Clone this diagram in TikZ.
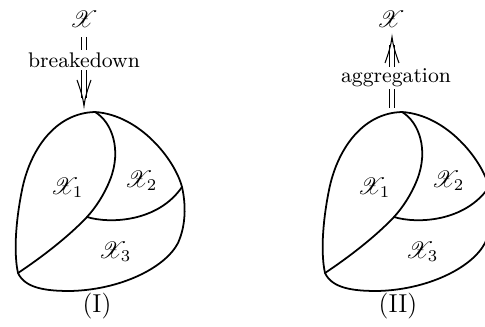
\documentclass[tikz,border=0pt]{standalone}
\usepackage{mathrsfs}
\usetikzlibrary{calc}
\begin{document}
\begin{tikzpicture}[x=0.4255pt,y=-0.4255pt,
  region/.style={line width=0.75pt, line join=round, line cap=round},
  arr/.style={line width=0.45pt},
  dbl/.style={line width=0.45pt, double, double distance=1.45pt},
  lab/.style={fill=white, inner sep=1pt, font=\small},
  captext/.style={font=\fontsize{11}{13}\selectfont},
  blob/.pic={
    \coordinate (-T) at (95,112);
    \coordinate (-B) at (18,273);
    \coordinate (-J) at (87,217);
    \coordinate (-R) at (182,187);
    \draw[region] (-T) .. controls (55,113) and (30,150) .. (22,190)
      .. controls (15,225) and (14,255) .. (-B)
      .. controls (25,288) and (45,291) .. (70,291)
      .. controls (120,290) and (165,268) .. (178,243)
      .. controls (186,225) and (186,205) .. (-R)
      .. controls (175,160) and (140,115) .. (-T);
    \draw[region] (-T) .. controls (112,122) and (122,150) .. (110,180)
      .. controls (104,195) and (96,207) .. (-J)
      .. controls (70,235) and (45,255) .. (-B);
    \draw[region] (-J) .. controls (110,224) and (158,222) .. (-R);
    \node (-x1) at (67,188) {$\mathscr{X}_1$};
    \node (-x2) at (141,181) {$\mathscr{X}_2$};
    \node (-x3) at (115,252) {$\mathscr{X}_3$};
  }]
\useasboundingbox (0,0) rectangle (485,327);
\clip (0,0) rectangle (485,327);

% left
\pic (L) at (0,0) {blob};
\node (X1) at (84,19) {$\mathscr{X}$};
\coordinate (a1) at (84,37);
\coordinate (t1) at (84,106);
\draw[dbl, shorten >=3.6pt] (a1) -- (t1);
\draw[arr] ($(t1)+(-7,-26)$) .. controls ($(t1)+(-3,-15)$) and ($(t1)+(-1,-8)$) .. (t1)
  .. controls ($(t1)+(1,-8)$) and ($(t1)+(3,-15)$) .. ($(t1)+(7,-26)$);
\node[lab] (lab1) at (84,60) {breakedown};
\node[captext] (c1) at (97,306) {(I)};

% right
\pic (R) at (307,0) {blob};
\node (X2) at (391,19) {$\mathscr{X}$};
\coordinate (b2) at (392,108);
\coordinate (t2) at (392,37);
\draw[dbl, shorten >=3.6pt] (b2) -- (t2);
\draw[arr] ($(t2)+(-7,26)$) .. controls ($(t2)+(-3,15)$) and ($(t2)+(-1,8)$) .. (t2)
  .. controls ($(t2)+(1,8)$) and ($(t2)+(3,15)$) .. ($(t2)+(7,26)$);
\node[lab] (lab2) at (396,78) {aggregation};
\node[captext] (c2) at (398,306) {(II)};
\end{tikzpicture}
\end{document}
